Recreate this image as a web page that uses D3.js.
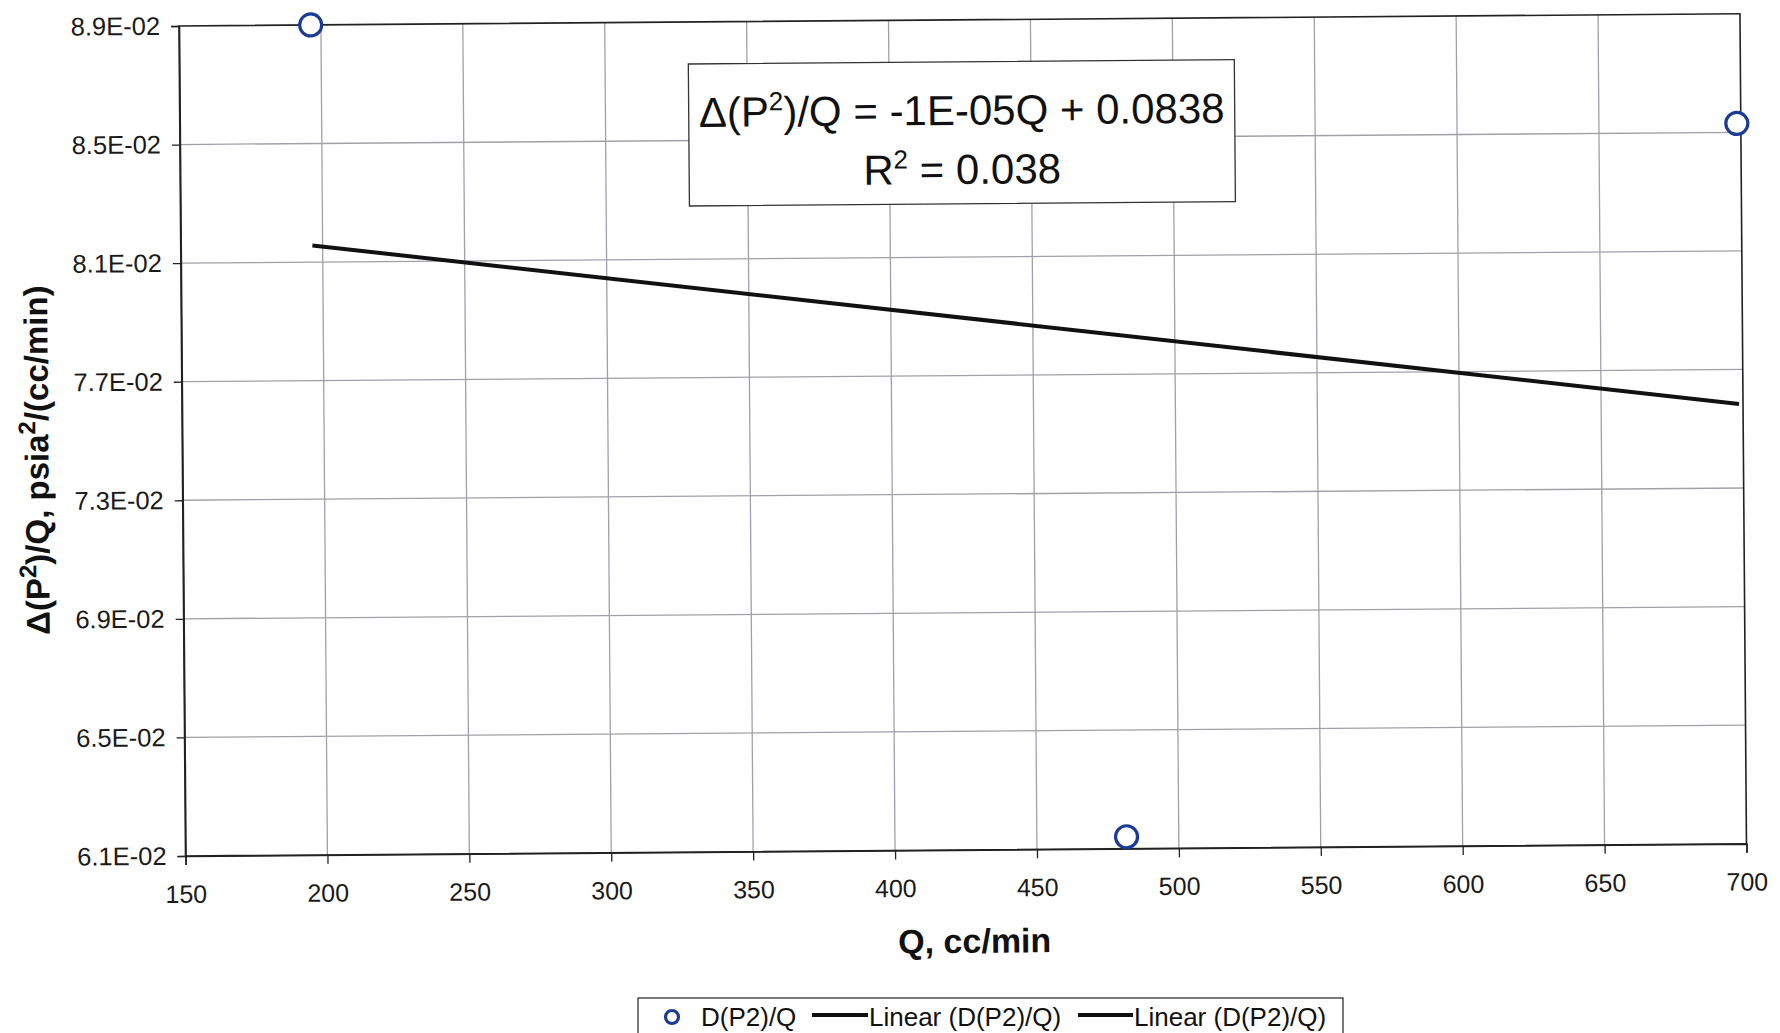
<!DOCTYPE html>
<html>
<head>
<meta charset="utf-8">
<script src="https://cdn.jsdelivr.net/npm/d3@7/dist/d3.min.js"></script>
<style>
  html, body { margin: 0; padding: 0; background: #ffffff; }
  svg { display: block; font-family: "Liberation Sans", Arial, sans-serif; }
</style>
</head>
<body>
<svg id="chart" width="1780" height="1033"></svg>
<script>
// Measured flow rate Q (cc/min) and Δ(P²)/Q values
const flowRates = [196.4, 481.6, 698.6];
const dp2OverQ = [0.0890, 0.0614, 0.0853];

// Linear trend line: slope, intercept and fit quality
const trendSlope = -1.14e-5;
const trendIntercept = 0.0838;
const rSquared = 0.038;

// Axis ticks
const xTicks = [150, 200, 250, 300, 350, 400, 450, 500, 550, 600, 650, 700];
const yTicks = [0.061, 0.065, 0.069, 0.073, 0.077, 0.081, 0.085, 0.089];
const yTickLabels = ["6.1E-02", "6.5E-02", "6.9E-02", "7.3E-02", "7.7E-02", "8.1E-02", "8.5E-02", "8.9E-02"];

// Legend entries
const legendLabels = ["D(P2)/Q", "Linear (D(P2)/Q)", "Linear (D(P2)/Q)"];

const svg = d3.select("#chart");
const W = 1561, H = 830;

const x = d3.scaleLinear().domain([150, 700]).range([0, W]);
const y = d3.scaleLinear().domain([0.061, 0.089]).range([H, 0]);

// spreadsheet-style scientific format: one significant digit, "E-05"
function sciLabel(v) {
  const [m, e] = v.toExponential(0).split("e");
  const exp = parseInt(e, 10);
  return `${m}E${exp < 0 ? "-" : "+"}${String(Math.abs(exp)).padStart(2, "0")}`;
}

// the sheet sits slightly tilted on the page
const g = svg.append("g").attr("transform", "translate(179,26) rotate(-0.45)");

// gridlines
g.append("g").selectAll("line").data(xTicks.slice(1, -1)).join("line")
  .attr("x1", d => x(d)).attr("x2", d => x(d)).attr("y1", 0).attr("y2", H)
  .attr("stroke", "#a0a0aa").attr("stroke-width", 1.3);
g.append("g").selectAll("line").data(yTicks.slice(1, -1)).join("line")
  .attr("x1", 0).attr("x2", W).attr("y1", d => y(d)).attr("y2", d => y(d))
  .attr("stroke", "#a0a0aa").attr("stroke-width", 1.3);

// plot frame
g.append("rect").attr("x", 0).attr("y", 0).attr("width", W).attr("height", H)
  .attr("fill", "none").attr("stroke", "#222").attr("stroke-width", 1.6);

// axes
const xAxis = d3.axisBottom(x).tickValues(xTicks).tickSize(9).tickPadding(20).tickFormat(d3.format("d"));
const gx = g.append("g").attr("transform", `translate(0,${H})`).call(xAxis);
gx.select(".domain").attr("stroke", "#222").attr("stroke-width", 1.6);
gx.selectAll(".tick line").attr("stroke", "#222").attr("stroke-width", 1.3);
gx.selectAll(".tick text").attr("font-size", 25).attr("fill", "#1a1a1a")
  .attr("font-family", "'Liberation Sans', Arial, sans-serif");

const yAxis = d3.axisLeft(y).tickValues(yTicks).tickSize(8).tickPadding(11)
  .tickFormat((d, i) => yTickLabels[i]);
const gy = g.append("g").call(yAxis);
gy.select(".domain").attr("stroke", "#222").attr("stroke-width", 1.6);
gy.selectAll(".tick line").attr("stroke", "#222").attr("stroke-width", 1.3);
gy.selectAll(".tick text").attr("font-size", 25.5).attr("fill", "#1a1a1a")
  .attr("font-family", "'Liberation Sans', Arial, sans-serif");

// linear trend line across the data range
const qMin = d3.min(flowRates), qMax = d3.max(flowRates);
g.append("line")
  .attr("x1", x(qMin)).attr("y1", y(trendSlope * qMin + trendIntercept))
  .attr("x2", x(qMax)).attr("y2", y(trendSlope * qMax + trendIntercept))
  .attr("stroke", "#111").attr("stroke-width", 4);

// data points
g.append("g").selectAll("circle").data(flowRates.map((q, i) => [q, dp2OverQ[i]])).join("circle")
  .attr("cx", d => x(d[0])).attr("cy", d => y(d[1])).attr("r", 11)
  .attr("fill", "#ffffff").attr("stroke", "#1b3c96").attr("stroke-width", 3.2);

// equation box
const eq = g.append("g").attr("transform", "translate(509,42)");
eq.append("rect").attr("width", 546).attr("height", 142)
  .attr("fill", "#ffffff").attr("stroke", "#333").attr("stroke-width", 1.3);
const t1 = eq.append("text").attr("x", 273).attr("y", 63).attr("text-anchor", "middle")
  .attr("font-size", 42).attr("fill", "#111");
t1.append("tspan").text("Δ(P");
t1.append("tspan").attr("dy", -16).attr("font-size", 26).text("2");
t1.append("tspan").attr("dy", 16).text(`)/Q = ${sciLabel(trendSlope)}Q + ${trendIntercept}`);
const t2 = eq.append("text").attr("x", 273).attr("y", 122).attr("text-anchor", "middle")
  .attr("font-size", 42).attr("fill", "#111");
t2.append("tspan").text("R");
t2.append("tspan").attr("dy", -16).attr("font-size", 26).text("2");
t2.append("tspan").attr("dy", 16).text(` = ${rSquared}`);

// axis titles
g.append("text").attr("x", W / 2 + 8).attr("y", H + 103).attr("text-anchor", "middle")
  .attr("font-size", 34).attr("font-weight", "bold").attr("fill", "#111").text("Q, cc/min");

const yt = g.append("text").attr("transform", `translate(-134,${H / 2 + 18}) rotate(-90)`)
  .attr("text-anchor", "middle").attr("font-size", 33).attr("font-weight", "bold").attr("fill", "#111");
yt.append("tspan").text("Δ(P");
yt.append("tspan").attr("dy", -13).attr("font-size", 24).text("2");
yt.append("tspan").attr("dy", 13).text(")/Q, psia");
yt.append("tspan").attr("dy", -13).attr("font-size", 24).text("2");
yt.append("tspan").attr("dy", 13).text("/(cc/min)");

// legend
const lg = svg.append("g").attr("transform", "translate(638,998)");
lg.append("rect").attr("width", 705).attr("height", 60)
  .attr("fill", "#ffffff").attr("stroke", "#333").attr("stroke-width", 1.3);
lg.append("circle").attr("cx", 34).attr("cy", 19).attr("r", 6.5)
  .attr("fill", "none").attr("stroke", "#1b3c96").attr("stroke-width", 3.2);
lg.append("text").attr("x", 63).attr("y", 28).attr("font-size", 26).attr("fill", "#111").text(legendLabels[0]);
lg.append("line").attr("x1", 174).attr("x2", 230).attr("y1", 17).attr("y2", 17)
  .attr("stroke", "#111").attr("stroke-width", 4);
lg.append("text").attr("x", 231).attr("y", 28).attr("font-size", 26).attr("fill", "#111").text(legendLabels[1]);
lg.append("line").attr("x1", 440).attr("x2", 495).attr("y1", 17).attr("y2", 17)
  .attr("stroke", "#111").attr("stroke-width", 4);
lg.append("text").attr("x", 496).attr("y", 28).attr("font-size", 26).attr("fill", "#111").text(legendLabels[2]);
</script>
</body>
</html>
